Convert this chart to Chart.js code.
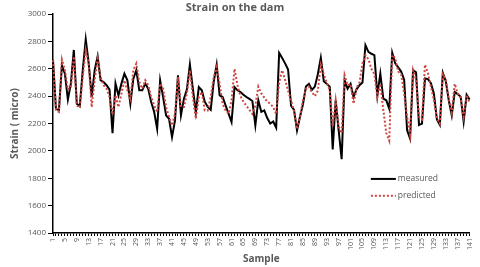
<!DOCTYPE html>
<html>
<head>
<meta charset="utf-8">
<title>Strain on the dam</title>
<script src="https://cdn.jsdelivr.net/npm/chart.js@4.4.1/dist/chart.umd.min.js"></script>
<style>
  html, body { margin: 0; padding: 0; background: #fff; }
  #wrap { position: relative; width: 480px; height: 267px; }
</style>
</head>
<body>
<div id="wrap"><canvas id="strainChart"></canvas></div>
<script>
// sample numbers 1..141 on the category axis
const samples = [];
for (let i = 1; i <= 141; i++) samples.push(String(i));

const xTickLabels = ['1','5','9','13','17','21','25','29','33','37','41','45','49','53','57','61','65','69','73',
    '77','81','85','89','93','97','101','105','109','113','117','121','125','129','133','137','141'];
const yTickValues = [1400, 1600, 1800, 2000, 2200, 2400, 2600, 2800, 3000];

const measured = [
    2665, 2305, 2300, 2626, 2565, 2375, 2492, 2738, 2345, 2326,
    2590, 2815, 2640, 2394, 2590, 2692, 2516, 2504, 2480, 2448,
    2130, 2492, 2406, 2492, 2565, 2516, 2345, 2528, 2590, 2443,
    2443, 2492, 2455, 2357, 2284, 2162, 2516, 2394, 2260, 2235,
    2101, 2223, 2553, 2260, 2382, 2450, 2632, 2455, 2284, 2467,
    2443, 2360, 2321, 2300, 2505, 2630, 2406, 2394, 2333, 2272,
    2211, 2467, 2443, 2431, 2411, 2394, 2380, 2365, 2187, 2370,
    2286, 2297, 2240, 2200, 2215, 2170, 2717, 2680, 2640, 2595,
    2330, 2300, 2150, 2250, 2340, 2470, 2490, 2445, 2470, 2560,
    2680, 2510, 2490, 2470, 2010, 2370, 2150, 1940, 2516, 2455,
    2490, 2394, 2450, 2480, 2500, 2773, 2724, 2710, 2700, 2406,
    2565, 2382, 2370, 2309, 2717, 2640, 2610, 2580, 2520, 2150,
    2090, 2590, 2575, 2190, 2200, 2530, 2525, 2495, 2420, 2230,
    2190, 2570, 2510, 2370, 2260, 2430, 2415, 2395, 2215, 2410,
    2375
];

const predicted = [
    2663, 2300, 2285, 2667, 2590, 2450, 2460, 2690, 2333, 2316,
    2540, 2740, 2640, 2320, 2516, 2675, 2540, 2480, 2455, 2394,
    2265, 2406, 2320, 2418, 2516, 2443, 2382, 2590, 2638, 2504,
    2455, 2516, 2480, 2394, 2333, 2284, 2492, 2455, 2321, 2247,
    2186, 2272, 2540, 2321, 2321, 2418, 2590, 2394, 2235, 2394,
    2431, 2296, 2296, 2394, 2540, 2614, 2492, 2345, 2296, 2272,
    2370, 2600, 2480, 2400, 2360, 2330, 2300, 2270, 2330, 2470,
    2420, 2390, 2360, 2345, 2320, 2270, 2500, 2590, 2520, 2440,
    2370, 2290, 2160, 2250, 2370, 2455, 2470, 2430, 2400, 2440,
    2630, 2560, 2500, 2440, 2180, 2370, 2180, 2130, 2553, 2480,
    2490, 2345, 2460, 2500, 2640, 2700, 2670, 2600, 2560, 2394,
    2490, 2300, 2130, 2075, 2700, 2680, 2580, 2560, 2420, 2250,
    2120, 2590, 2520, 2250, 2230, 2630, 2570, 2470, 2370, 2240,
    2200, 2560, 2520, 2380, 2280, 2490, 2420, 2390, 2250, 2410,
    2350
];

Chart.defaults.font.family = "'Open Sans', sans-serif";
Chart.defaults.color = '#595959';

// legend drawn inside the plot, lower right, like the original
const insideLegend = {
    id: 'insideLegend',
    afterDraw(chart) {
        const ctx = chart.ctx;
        const area = chart.chartArea;
        const x0 = area.left + area.width * 0.763;
        chart.data.datasets.forEach((ds, i) => {
            const y = area.top + area.height * (0.753 + i * 0.077);
            ctx.save();
            ctx.strokeStyle = ds.borderColor;
            ctx.lineWidth = ds.borderWidth;
            ctx.setLineDash(ds.borderDash || []);
            ctx.beginPath();
            ctx.moveTo(x0, y);
            ctx.lineTo(x0 + 25, y);
            ctx.stroke();
            ctx.setLineDash([]);
            ctx.fillStyle = '#595959';
            ctx.font = "8.5px 'Open Sans', sans-serif";
            ctx.textBaseline = 'middle';
            ctx.fillText(ds.label, x0 + 27, y);
            ctx.restore();
        });
    }
};

const ctx = document.getElementById('strainChart').getContext('2d');

new Chart(ctx, {
    type: 'line',
    data: {
        labels: samples,
        datasets: [{
            label: 'measured',
            data: measured,
            borderColor: '#000000',
            borderWidth: 2,
            pointRadius: 0,
            tension: 0,
            order: 1
        }, {
            label: 'predicted',
            data: predicted,
            borderColor: '#D0453F',
            borderWidth: 2,
            borderDash: [2, 2],
            pointRadius: 0,
            tension: 0,
            order: 0
        }]
    },
    options: {
        responsive: true,
        maintainAspectRatio: false,
        animation: false,
        layout: {
            padding: { left: 0, right: 10, top: 0, bottom: 0 }
        },
        scales: {
            x: {
                offset: false,
                afterFit: function(scale) { scale.height = 34; },
                grid: {
                    display: true,
                    drawOnChartArea: false,
                    drawTicks: true,
                    tickLength: 3,
                    color: '#000000'
                },
                border: { display: true, color: '#000000', width: 1.5 },
                ticks: {
                    autoSkip: false,
                    minRotation: 90,
                    maxRotation: 90,
                    padding: 2,
                    font: { size: 7 },
                    callback: function(value, index) {
                        const lab = this.getLabelForValue(value);
                        return xTickLabels.includes(lab) ? lab : '';
                    }
                },
                title: {
                    display: true,
                    text: 'Sample',
                    font: { size: 10, weight: 'bold' },
                    padding: { top: 0, bottom: 2 }
                }
            },
            y: {
                min: 1400,
                max: 3000,
                afterFit: function(scale) { scale.width = 53; },
                afterBuildTicks: function(scale) {
                    scale.ticks = yTickValues.map(v => ({ value: v }));
                },
                grid: {
                    display: true,
                    drawOnChartArea: false,
                    drawTicks: true,
                    tickLength: 5,
                    color: '#000000'
                },
                border: { display: true, color: '#000000', width: 1.5 },
                ticks: {
                    padding: 2,
                    font: { size: 8 },
                    callback: function(value) { return String(value); }
                },
                title: {
                    display: true,
                    text: 'Strain ( micro)',
                    font: { size: 10, weight: 'bold' },
                    padding: { top: 9, bottom: 0 }
                }
            }
        },
        plugins: {
            legend: { display: false },
            tooltip: { enabled: false },
            title: {
                display: true,
                text: 'Strain on the dam',
                color: '#595959',
                font: { size: 11, weight: 'bold', lineHeight: 1.1 },
                padding: { top: 2, bottom: 0 }
            }
        }
    },
    plugins: [insideLegend]
});
</script>
</body>
</html>
